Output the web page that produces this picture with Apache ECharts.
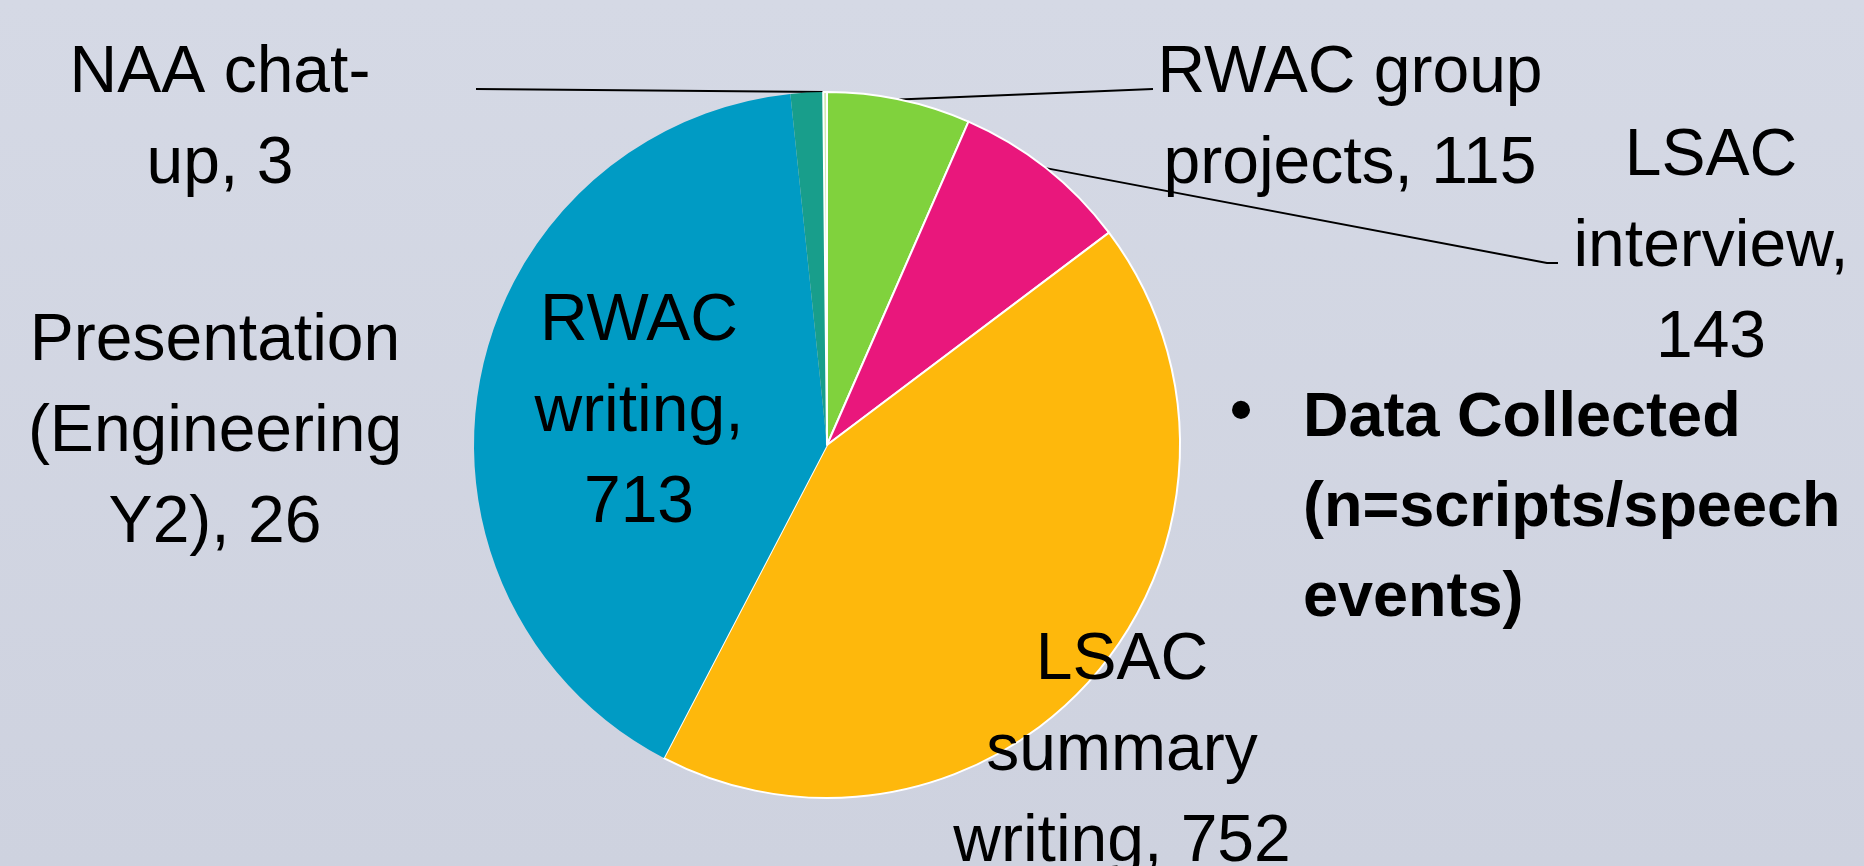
<!DOCTYPE html>
<html>
<head>
<meta charset="utf-8">
<title>Data Collected</title>
<script src="https://cdn.jsdelivr.net/npm/echarts@6/dist/echarts.min.js"></script>
<style>
  html, body { margin: 0; padding: 0; background: #d2d7e3; }
  #chart { width: 1864px; height: 866px; }
</style>
</head>
<body>
<div id="chart"></div>
<script>
// slices, clockwise from 12 o'clock
var categories = ['RWAC group projects', 'LSAC interview', 'LSAC summary writing', 'RWAC writing', 'Presentation (Engineering Y2)', 'NAA chat-up'];
var counts = [115, 143, 752, 713, 26, 3];
// how each data label wraps ({c} = count)
var labelFormats = [
  'RWAC group\nprojects, {c}',
  'LSAC\ninterview,\n{c}',
  'LSAC\nsummary\nwriting, {c}',
  'RWAC\nwriting,\n{c}',
  'Presentation\n(Engineering\nY2), {c}',
  'NAA chat-\nup, {c}'
];
var bulletLines = ['Data Collected', '(n=scripts/speech', 'events)'];

var colors = ['#80d23d', '#e9177c', '#feb80c', '#009bc4', '#189e8b', '#cfeab3'];
var hasBorder = [true, true, true, false, false, true];
var hasLeader = [true, true, false, false, false, true];

// where the labels sit (centre of the text block) and where leader lines end
var labelSpots = [[1350, 119], [1711, 248], [1122, 752], [639, 413], [215, 433], [220, 119]];
var leaderEnds = {
  0: [[1153, 89], [1153, 89]],
  1: [[1547, 263], [1558, 263]],
  5: [[476, 89], [476, 89]]
};

var font = "'Liberation Sans', Arial, sans-serif";

var pieData = categories.map(function (name, i) {
  return {
    name: name,
    value: counts[i],
    itemStyle: {
      color: colors[i],
      borderColor: '#ffffff',
      borderWidth: hasBorder[i] ? 2 : 0
    },
    label: { formatter: labelFormats[i] },
    labelLine: { show: hasLeader[i] }
  };
});

var myChart = echarts.init(document.getElementById('chart'));

var option = {
  backgroundColor: {
    type: 'linear', x: 0, y: 0, x2: 0, y2: 1,
    colorStops: [
      { offset: 0, color: '#d5d9e5' },
      { offset: 1, color: '#ced2df' }
    ]
  },
  animation: false,
  series: [
    {
      name: 'Data collected',
      type: 'pie',
      center: [827, 445],
      radius: 353,
      startAngle: 90,
      clockwise: true,
      avoidLabelOverlap: false,
      data: pieData,
      label: {
        show: true,
        position: 'outside',
        color: '#000000',
        fontFamily: font,
        fontSize: 66,
        lineHeight: 91,
        align: 'center'
      },
      labelLine: {
        lineStyle: { color: '#000000', width: 1.8 }
      },
      labelLayout: function (p) {
        var i = p.dataIndex;
        var out = {
          x: labelSpots[i][0],
          y: labelSpots[i][1],
          align: 'center',
          verticalAlign: 'middle'
        };
        if (leaderEnds[i] && p.labelLinePoints) {
          out.labelLinePoints = [p.labelLinePoints[0]].concat(leaderEnds[i]);
        }
        return out;
      },
      emphasis: { disabled: true }
    }
  ],
  graphic: [
    {
      type: 'text',
      silent: true,
      style: {
        text: '\u2022',
        x: 1241, y: 414,
        fill: '#000000',
        font: 'bold 63px ' + font,
        align: 'center', textAlign: 'center',
        verticalAlign: 'middle', textVerticalAlign: 'middle'
      }
    },
    {
      type: 'text',
      silent: true,
      style: {
        text: bulletLines.join('\n'),
        x: 1303, y: 509,
        fill: '#000000',
        font: 'bold 63px ' + font,
        lineHeight: 90,
        align: 'left', textAlign: 'left',
        verticalAlign: 'middle', textVerticalAlign: 'middle'
      }
    }
  ]
};

myChart.setOption(option);
</script>
</body>
</html>
